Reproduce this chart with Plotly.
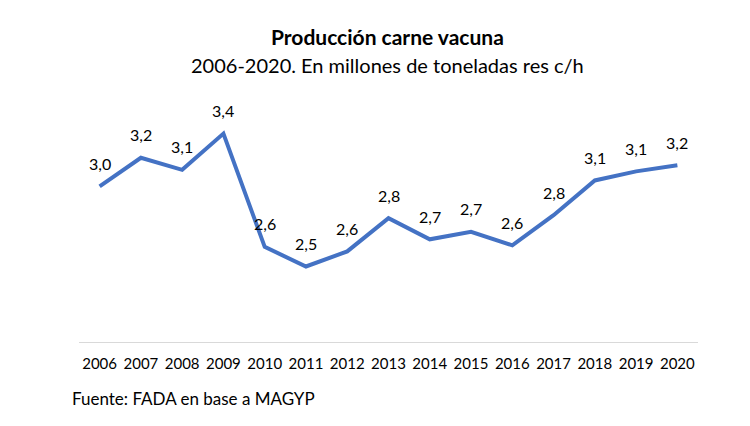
import plotly.graph_objects as go

years = ["2006", "2007", "2008", "2009", "2010", "2011", "2012", "2013",
         "2014", "2015", "2016", "2017", "2018", "2019", "2020"]
produccion = [3.03, 3.22, 3.14, 3.38, 2.63, 2.50, 2.60, 2.82,
              2.68, 2.73, 2.64, 2.84, 3.07, 3.13, 3.17]
labels = [f"{v:.1f}".replace(".", ",") for v in produccion]

title_text = "<b>Producción carne vacuna</b>"
subtitle_text = "2006-2020. En millones de toneladas res c/h"
source_text = "Fuente: FADA en base a MAGYP"

FONT = "Lato"
BLUE = "#4472C4"

fig = go.Figure()
fig.add_trace(go.Scatter(
    x=years, y=produccion, mode="lines",
    line=dict(color=BLUE, width=4),
    hoverinfo="x+y",
))

for i, (y, t) in enumerate(zip(produccion, labels)):
    fig.add_annotation(x=i, y=y, text=t, showarrow=False, xref="x", yref="y",
                       yshift=23, font=dict(family=FONT, size=16, color="#000000"))

fig.add_annotation(x=0.4976, y=1.125, xref="paper", yref="paper", text=title_text,
                   showarrow=False, xanchor="center", yanchor="middle",
                   font=dict(family=FONT, size=21, color="#000000"))
fig.add_annotation(x=0.4976, y=1.017, xref="paper", yref="paper", text=subtitle_text,
                   showarrow=False, xanchor="center", yanchor="middle",
                   font=dict(family=FONT, size=20, color="#000000"))
fig.add_annotation(x=-0.014, y=-0.206, xref="paper", yref="paper", text=source_text,
                   showarrow=False, xanchor="left", yanchor="middle",
                   font=dict(family=FONT, size=17, color="#000000"))

fig.update_layout(
    width=750, height=426,
    margin=dict(l=79, r=52, t=70, b=84),
    paper_bgcolor="white", plot_bgcolor="white",
    showlegend=False,
    font=dict(family=FONT, color="#000000"),
    xaxis=dict(type="category", range=[-0.5, 14.5], showgrid=False,
               showline=True, linecolor="#D9D9D9", linewidth=1,
               ticks="", tickfont=dict(family=FONT, size=15, color="#000000"),
               ticklabelstandoff=8, fixedrange=True),
    yaxis=dict(range=[2.0, 2.0 + 272 / 151], visible=False, fixedrange=True),
)

fig.write_html("out.html")
